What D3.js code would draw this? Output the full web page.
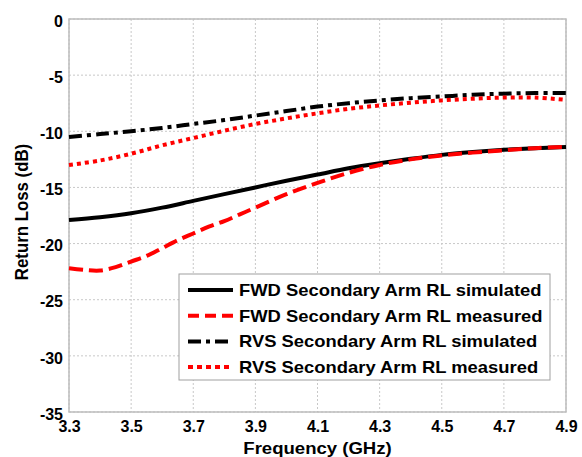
<!DOCTYPE html>
<html>
<head>
<meta charset="utf-8">
<script src="https://cdn.jsdelivr.net/npm/d3@7"></script>
<style>
  body { margin: 0; background: #fff; }
  text { font-family: Arial, "Liberation Sans", sans-serif; font-weight: bold; }
</style>
</head>
<body>
<svg id="chart" width="582" height="457"></svg>
<script>
const svg = d3.select('#chart');
const W = 582, H = 457;
const margin = { top: 19, right: 16, bottom: 45, left: 69 };
const iw = W - margin.left - margin.right;
const ih = H - margin.top - margin.bottom;

// frequency grid (GHz)
const freq = [3.3, 3.4, 3.5, 3.6, 3.7, 3.8, 3.9, 4.0, 4.1, 4.2, 4.3, 4.4, 4.5, 4.6, 4.7, 4.8, 4.9];
const freqFwdMeas = [3.3, 3.35, 3.4, 3.45, 3.5, 3.55, 3.6, 3.65, 3.7, 3.75, 3.8, 3.85, 3.9, 4.0, 4.1, 4.2, 4.3, 4.4, 4.5, 4.6, 4.7, 4.8, 4.9];

// return loss (dB)
const fwdSim = [-17.9, -17.65, -17.3, -16.8, -16.2, -15.6, -15.0, -14.4, -13.85, -13.3, -12.85, -12.45, -12.1, -11.85, -11.65, -11.5, -11.4];
const fwdMeas = [-22.2, -22.35, -22.4, -22.1, -21.6, -21.1, -20.4, -19.7, -19.1, -18.5, -18.0, -17.4, -16.8, -15.6, -14.6, -13.7, -13.0, -12.5, -12.15, -11.9, -11.7, -11.5, -11.4];
const rvsSim = [-10.5, -10.25, -10.0, -9.7, -9.35, -9.0, -8.6, -8.2, -7.8, -7.5, -7.25, -7.05, -6.9, -6.75, -6.65, -6.6, -6.6];
const rvsMeas = [-13.0, -12.6, -12.0, -11.25, -10.6, -9.95, -9.35, -8.85, -8.4, -8.0, -7.7, -7.45, -7.25, -7.1, -7.0, -7.0, -7.2];

const xTicks = [3.3, 3.5, 3.7, 3.9, 4.1, 4.3, 4.5, 4.7, 4.9];
const yTicks = [0, -5, -10, -15, -20, -25, -30, -35];

const seriesNames = [
  'FWD Secondary Arm RL simulated',
  'FWD Secondary Arm RL measured',
  'RVS Secondary Arm RL simulated',
  'RVS Secondary Arm RL measured'
];

const series = [
  { name: seriesNames[0], x: freq, y: fwdSim, color: '#000', dash: null, legDash: null },
  { name: seriesNames[1], x: freqFwdMeas, y: fwdMeas, color: '#ff0000', dash: '14,6', legDash: '11,6' },
  { name: seriesNames[2], x: freq, y: rvsSim, color: '#000', dash: '13,5,4,5', legDash: '13,5,4,5' },
  { name: seriesNames[3], x: freq, y: rvsMeas, color: '#ff0000', dash: '4,4', legDash: '5,4' }
];

const x = d3.scaleLinear().domain([3.3, 4.9]).range([0, iw]);
const y = d3.scaleLinear().domain([-35, 0]).range([ih, 0]);

const g = svg.append('g').attr('transform', `translate(${margin.left},${margin.top})`);

// grid
g.append('g')
  .selectAll('line')
  .data(xTicks)
  .join('line')
  .attr('x1', d => x(d)).attr('x2', d => x(d))
  .attr('y1', 0).attr('y2', ih)
  .attr('stroke', '#c8c8c8')
  .attr('stroke-dasharray', '2,2');

g.append('g')
  .selectAll('line')
  .data(yTicks)
  .join('line')
  .attr('x1', 0).attr('x2', iw)
  .attr('y1', d => y(d)).attr('y2', d => y(d))
  .attr('stroke', '#c8c8c8')
  .attr('stroke-dasharray', '2,2');

// frame
g.append('rect')
  .attr('width', iw).attr('height', ih)
  .attr('fill', 'none')
  .attr('stroke', '#bdbdbd')
  .attr('stroke-width', 1.5);

// axes (labels only)
const xAxis = g.append('g')
  .attr('transform', `translate(0,${ih})`)
  .call(d3.axisBottom(x).tickValues(xTicks).tickSize(0).tickPadding(9).tickFormat(d3.format('.1f')));
xAxis.select('.domain').remove();
xAxis.selectAll('text').attr('font-size', 16).attr('fill', '#000')
  .attr('font-family', 'Arial, "Liberation Sans", sans-serif');

const yAxis = g.append('g')
  .call(d3.axisLeft(y).tickValues(yTicks).tickSize(0).tickPadding(6).tickFormat(d => String(d)));
yAxis.select('.domain').remove();
yAxis.selectAll('text').attr('font-size', 16).attr('fill', '#000').attr('dy', '0.45em')
  .attr('font-family', 'Arial, "Liberation Sans", sans-serif');

// lines
const line = d3.line().curve(d3.curveCatmullRom.alpha(0.5));
g.append('g')
  .selectAll('path')
  .data(series)
  .join('path')
  .attr('d', s => line(s.x.map((v, i) => [x(v), y(s.y[i])])))
  .attr('fill', 'none')
  .attr('stroke', s => s.color)
  .attr('stroke-width', 4)
  .attr('stroke-dasharray', s => s.dash);

// legend
const lg = g.append('g').attr('transform', `translate(${179 - margin.left},${274 - margin.top})`);
lg.append('rect')
  .attr('width', 371).attr('height', 106)
  .attr('fill', '#fff')
  .attr('stroke', '#a0a0a0')
  .attr('stroke-width', 1);

const rows = lg.selectAll('g.row')
  .data(series)
  .join('g')
  .attr('class', 'row')
  .attr('transform', (d, i) => `translate(0,${16 + i * 25.7})`);

rows.append('line')
  .attr('x1', 9).attr('x2', 54)
  .attr('stroke', d => d.color)
  .attr('stroke-width', 4)
  .attr('stroke-dasharray', d => d.legDash);

rows.append('text')
  .attr('transform', 'translate(60,6) scale(1.15,1)')
  .attr('font-size', 16)
  .text(d => d.name);

// axis titles
svg.append('text')
  .attr('transform', `translate(${margin.left + iw / 2},454) scale(1.16,1)`)
  .attr('text-anchor', 'middle')
  .attr('font-size', 16)
  .text('Frequency (GHz)');

svg.append('text')
  .attr('transform', 'translate(28,212) rotate(-90) scale(1.02,1.15)')
  .attr('text-anchor', 'middle')
  .attr('font-size', 16.5)
  .text('Return Loss (dB)');
</script>
</body>
</html>
